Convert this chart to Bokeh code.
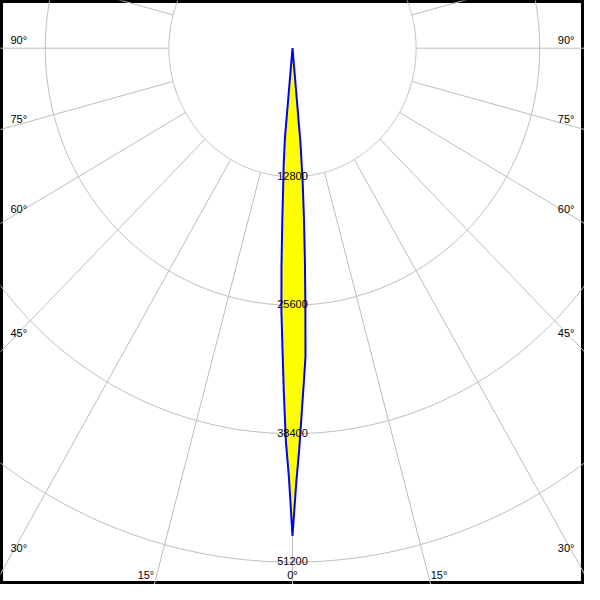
import numpy as np
from bokeh.plotting import figure
from bokeh.models import Range1d, ColumnDataSource
from bokeh.core.properties import value
from bokeh.embed import file_html
from bokeh.resources import INLINE

# ---------------- data ----------------
# gamma angles (deg from nadir) and luminous intensity (cd) for the two half planes
angles = [0, 0.5, 1.0, 1.5, 2.0, 2.5, 3.0, 3.5, 4.0, 4.5, 5.0, 5.5]
intensity_left = [48600, 42700, 39200, 34300, 29800, 26300, 21800, 17400, 13800, 11600, 9000, 0]
intensity_right = [48600, 43400, 39950, 36400, 33400, 30800, 25500, 21000, 17000, 13500, 9500, 0]

ring_values = [12800, 25600, 38400, 51200]
ring_labels = ["12800", "25600", "38400", "51200"]
spoke_angles = [0, 15, 30, 45, 60, 75, 90, 105, 120, 135, 150, 165, 180]
side_label_angles = [30, 45, 60, 75, 90]
bottom_label_angles = [0, 15]

# ---------------- layout ----------------
W = H = 584
x0, x1 = -30242, 30242
y0, y1 = -53428, 4751
ux = (x1 - x0) / W   # data units per screen px
uy = (y1 - y0) / H

p = figure(width=W, height=H, output_backend="svg", toolbar_location=None,
           x_range=Range1d(x0, x1), y_range=Range1d(y0, y1),
           x_axis_location=None, y_axis_location=None, min_border=0,
           background_fill_color="white", border_fill_color="white")
p.grid.visible = False
p.outline_line_color = "black"
p.outline_line_width = 5

grid_color = "#bdbdbd"
FONT = value("Liberation Sans")

# rings
th = np.linspace(0, 2 * np.pi, 721)
p.multi_line(xs=[list(r * np.sin(th)) for r in ring_values],
             ys=[list(r * np.cos(th)) for r in ring_values],
             line_color=grid_color, line_width=1)

# spokes
r_in, r_out = ring_values[0], 90000
sx, sy = [], []
for a in spoke_angles:
    t = np.radians(a)
    for s in (-1, 1):
        sx.append([s * r_in * np.sin(t), s * r_out * np.sin(t)])
        sy.append([-r_in * np.cos(t), -r_out * np.cos(t)])
p.multi_line(xs=sx, ys=sy, line_color=grid_color, line_width=1)

# intensity curve
ga = np.radians(np.array(angles, dtype=float))
il = np.array(intensity_left, dtype=float)
ir = np.array(intensity_right, dtype=float)
cx = list((-il * np.sin(ga))[::-1]) + list((ir * np.sin(ga))[1:])
cy = list((-il * np.cos(ga))[::-1]) + list((-ir * np.cos(ga))[1:])
p.patch(cx, cy, fill_color="#ffff00", line_color="#0000ff", line_width=2,
        line_join="miter")

# ring value labels
p.text(x=[0] * len(ring_values), y=[-r for r in ring_values], text=ring_labels,
       text_font=FONT, text_font_size="11px", text_color="black",
       text_align="center", text_baseline="alphabetic", y_offset=-1)

# side angle labels
pad = 10 * ux
lx, ly, lt, rx = [], [], [], []
for a in side_label_angles:
    xl = x0 + pad
    yl = 0.0 if a == 90 else -abs(xl) / np.tan(np.radians(a))
    lx.append(xl)
    ly.append(yl)
    lt.append(f"{a}°")
    rx.append(x1 - pad)
p.text(x=lx, y=ly, text=lt, text_font=FONT, text_font_size="11px",
       text_color="black", text_align="left", text_baseline="bottom", y_offset=-2)
p.text(x=rx, y=ly, text=lt, text_font=FONT, text_font_size="11px",
       text_color="black", text_align="right", text_baseline="bottom", y_offset=-2)

# bottom angle labels
yb = y0 + 4 * uy
bx, by, bt, ba = [], [], [], []
for a in bottom_label_angles:
    xe = abs(y0) * np.tan(np.radians(a))
    if a == 0:
        bx.append(0.0); by.append(yb); bt.append(f"{a}°"); ba.append("center")
    else:
        bx += [-xe, xe]; by += [yb, yb]; bt += [f"{a}°", f"{a}°"]; ba += ["right", "left"]
src = ColumnDataSource(dict(x=bx, y=by, t=bt, a=ba))
p.text(x="x", y="y", text="t", text_align="a", source=src, text_font=FONT,
       text_font_size="11px", text_color="black", text_baseline="bottom")

open("out.html", "w").write(file_html(p, INLINE))
